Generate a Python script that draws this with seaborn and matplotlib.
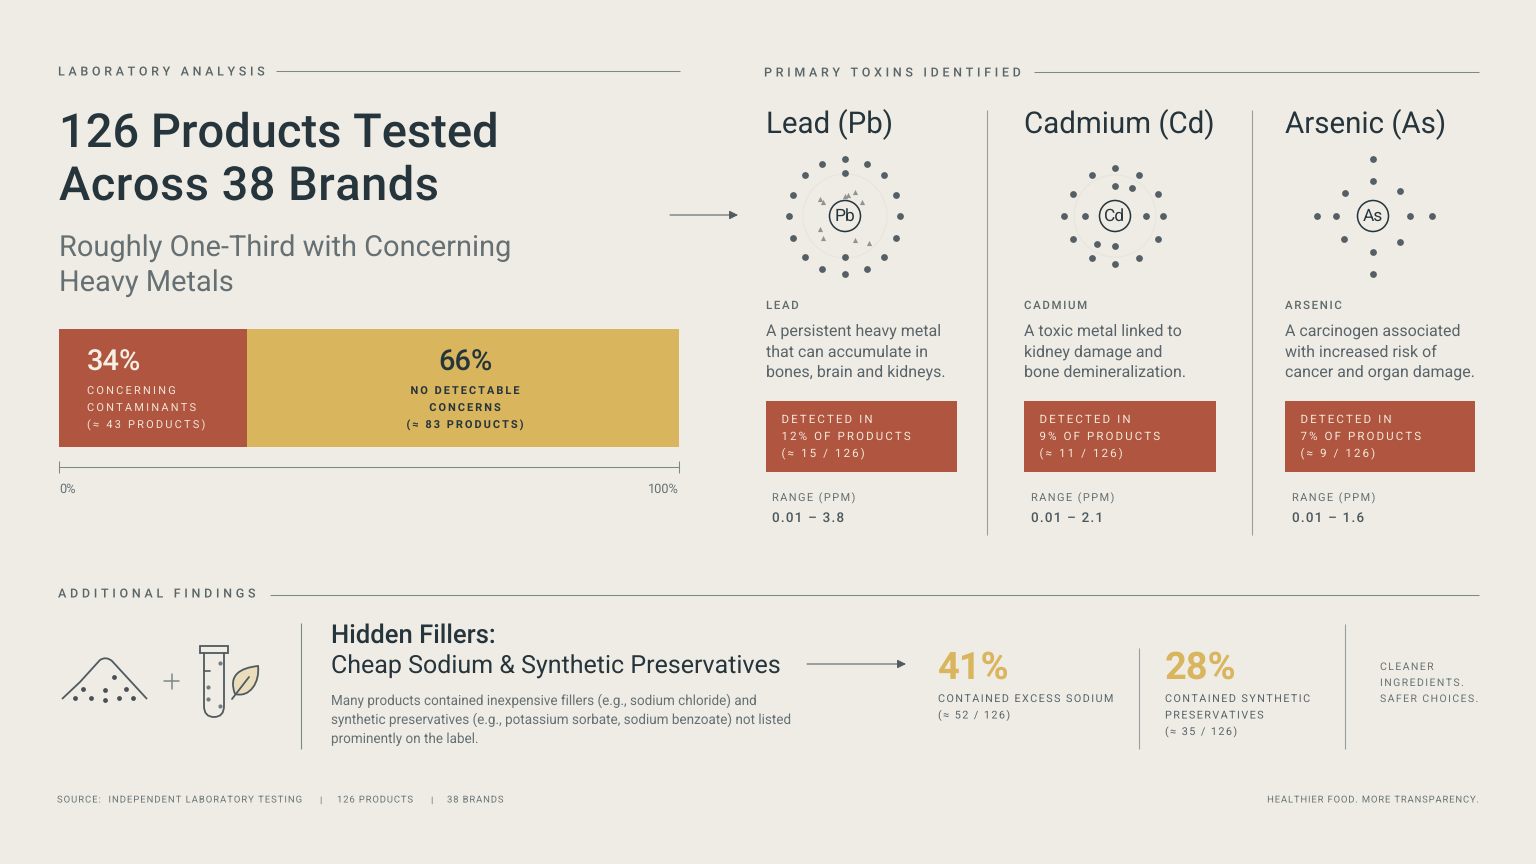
import numpy as np
import pandas as pd
import seaborn as sns
import matplotlib
matplotlib.use("Agg")
import matplotlib.pyplot as plt
from matplotlib.colors import to_rgb
from matplotlib.text import Text
from matplotlib.textpath import TextPath
from matplotlib.transforms import Affine2D
from matplotlib.path import Path
from matplotlib.patches import PathPatch, Circle, Rectangle

# ---------- data ----------
share_names = ["No detectable concerns", "Concerning contaminants"]
share_values = [66, 34]
# the reference draws the segments at these measured shares of the bar, not at the printed ones
share_drawn = [69.7, 30.3]
share_counts = [83, 43]
total_products = 126
total_brands = 38
toxin_names = ["Lead", "Cadmium", "Arsenic"]
toxin_symbols = ["Pb", "Cd", "As"]
toxin_pct = [12, 9, 7]
toxin_counts = [15, 11, 9]
toxin_ranges = ["0.01 – 3.8", "0.01 – 2.1", "0.01 – 1.6"]
toxin_desc = [
    ["A persistent heavy metal", "that can accumulate in", "bones, brain and kidneys."],
    ["A toxic metal linked to", "kidney damage and", "bone demineralization."],
    ["A carcinogen associated", "with increased risk of", "cancer and organ damage."],
]
filler_pct = [41, 28]
filler_counts = [52, 35]
filler_labels = [["CONTAINED EXCESS SODIUM"], ["CONTAINED SYNTHETIC", "PRESERVATIVES"]]

BG = "#EEECE5"; INK = "#26343C"; GREY = "#667073"; RULE = "#7F8887"
RED = "#B0553F"; GOLD = "#D9B55E"; DOT = "#555F66"

sns.set_theme(style="white")
plt.rcParams["font.family"] = ["Roboto", "DejaVu Sans"]
plt.rcParams["text.hinting"] = "no_hinting"


class Tracked(Text):
    """A single text whose letters are spaced apart by `tracking` pixels."""
    def __init__(self, *a, tracking=0, **k):
        super().__init__(*a, **k)
        self._tracking = tracking

    def _adv(self, renderer, s):
        fp = self.get_fontproperties()
        f = renderer.get_text_width_height_descent
        return f(s + "|", fp, False)[0] - f("|", fp, False)[0]

    def get_window_extent(self, renderer=None, dpi=None):
        bb = super().get_window_extent(renderer, dpi)
        extra = self._tracking * (len(self.get_text()) - 1)
        ha = self.get_ha()
        if ha == "left":
            bb.x1 += extra
        elif ha == "right":
            bb.x0 -= extra
        else:
            bb.x0 -= extra / 2
            bb.x1 += extra / 2
        return bb

    def draw(self, renderer):
        if not self._tracking:
            return super().draw(renderer)
        s = self.get_text()
        fp = self.get_fontproperties()
        x0, y0 = self.get_transform().transform(self.get_position())
        total = self._adv(renderer, s) + self._tracking * (len(s) - 1)
        ha = self.get_ha()
        start = x0 - (0 if ha == "left" else total if ha == "right" else total / 2)
        gc = renderer.new_gc()
        gc.set_linewidth(0)
        gc.set_snap(False)
        for i, c in enumerate(s):
            if not c.strip():
                continue
            px = start + self._adv(renderer, s[:i]) + self._tracking * i
            glyph = TextPath((0, 0), c, size=fp.get_size_in_points() * 100 / 72, prop=fp)
            renderer.draw_path(gc, glyph, Affine2D().translate(px, y0), to_rgb(self.get_color()))
        gc.restore()


fig = plt.figure(figsize=(15.36, 8.64), dpi=100, facecolor=BG)
ax = fig.add_axes([0, 0, 1, 1], facecolor="none")
ax.set_axis_off()
ax.set_zorder(2)
W, H = 1536, 864


def T(x, y, s, px, color=INK, weight="normal", track=0, ha="left"):
    """Text with its size in pixels and y at the baseline."""
    t = Tracked(x, y, s, tracking=track, fontsize=px * 0.72, color=color, fontweight=weight,
                ha=ha, va="baseline", transform=ax.transData)
    ax.add_artist(t)
    t.set_clip_on(False)
    t.set_zorder(6)
    return t


def hline(x0, x1, y, c=RULE, lw=0.75):
    ax.plot([x0, x1], [y, y], color=c, lw=lw, solid_capstyle="butt")


def vline(x, y0, y1, c="#9A9F9D", lw=0.8):
    ax.plot([x, x], [y0, y1], color=c, lw=lw, solid_capstyle="butt")


def arrow(x0, x1, y):
    ax.annotate("", xy=(x1, y), xytext=(x0, y),
                arrowprops=dict(arrowstyle="-|>,head_length=0.4,head_width=0.2", color="#4F5B60",
                                lw=0.75, shrinkA=0, shrinkB=0, mutation_scale=13))


# ---------- upper left ----------
T(58, 75.5, "LABORATORY ANALYSIS", 12.5, "#5A6568", "medium", 3.65)
hline(276, 680, 71)
T(59, 147, f"{total_products} Products Tested", 47, INK, "medium")
T(59, 200, f"Across {total_brands} Brands", 47, INK, "medium", 0.45)
T(59, 255.5, "Roughly One-Third with Concerning", 29, GREY, "normal")
T(59, 290.5, "Heavy Metals", 29, GREY, "normal")

# stacked bar: cumulative total first, the first segment over it
bar_ax = fig.add_axes([59 / W, 1 - 447 / H, 620 / W, 118 / H], facecolor="none")
bar_ax.set_zorder(1)
shares = pd.DataFrame({"group": ["all"] * 2, "name": share_names, "value": share_drawn})
sns.barplot(data=pd.DataFrame({"v": [sum(share_drawn)], "g": ["all"]}), x="v", y="g", orient="y",
            color=GOLD, saturation=1, width=1, linewidth=0, ax=bar_ax)
sns.barplot(data=shares[shares["name"] == share_names[1]], x="value", y="group", orient="y",
            color=RED, saturation=1, width=1, linewidth=0, ax=bar_ax)
bar_ax.set_xlim(0, 100)
bar_ax.set_ylim(0.5, -0.5)
bar_ax.set(xlabel="", ylabel="", yticks=[])
for side in ["top", "left", "right"]:
    bar_ax.spines[side].set_visible(False)
bar_ax.spines["bottom"].set_position(("outward", 14.4))
bar_ax.spines["bottom"].set_color(RULE)
bar_ax.spines["bottom"].set_linewidth(0.75)
bar_ax.set_xticks([0, 100], ["0%", "100%"])
bar_ax.tick_params(axis="x", direction="inout", bottom=True, length=8.6, width=0.75, color=RULE,
                   labelsize=9.2, labelcolor=GREY, pad=7)
bar_ax.get_xticklabels()[0].set_ha("left")
bar_ax.get_xticklabels()[1].set_ha("right")

T(87, 371, f"{share_values[1]}%", 29, "#F6EFE6", "medium")
for y, s in zip([394, 411, 428], ["CONCERNING", "CONTAMINANTS", f"(≈ {share_counts[1]} PRODUCTS)"]):
    T(87, y, s, 11, "#F0E4D8", "normal", 2.2)
T(465, 371, f"{share_values[0]}%", 29, INK, "medium", ha="center")
for y, s in zip([394, 411, 428], ["NO DETECTABLE", "CONCERNS", f"(≈ {share_counts[0]} PRODUCTS)"]):
    T(465, y, s, 11, INK, "bold", 2.0, ha="center")

# ---------- upper right ----------
T(764, 76.5, "PRIMARY TOXINS IDENTIFIED", 12.5, "#5A6568", "medium", 3.67)
hline(1034, 1479, 72)
arrow(670, 738, 215)
vline(987, 110, 535)
vline(1252, 110, 535)

col_x = [766, 1024, 1285]
col_w = [191, 192, 190]
range_x = [772, 1031, 1292]
centers = [(845, 216), (1115, 216), (1373, 216)]
atoms = [
    [(0, -57), (-23, -52), (22, -52), (0, -43), (-40, -41), (39, -41), (-52, -21), (51, -21),
     (-56, 0), (55, 0), (-52, 22), (51, 22), (-40, 41), (39, 41), (-23, 53), (22, 53), (0, 58), (0, 41)],
    [(0, -48), (-23, -41), (24, -41), (0, -30), (17, -28), (-42, -22), (43, -22), (-51, 0), (-30, 0),
     (31, 0), (48, 0), (-42, 23), (43, 23), (-18, 28), (0, 30), (-23, 42), (24, 42), (0, 48)],
    [(0, -57), (0, -35), (-28, -23), (27, -25), (-56, 0), (-37, 0), (37, 0), (59, 0), (-29, 23),
     (27, 26), (0, 36), (0, 58)],
]
for i, name in enumerate(toxin_names):
    x = col_x[i]
    T(x, 132, f"{name} ({toxin_symbols[i]})", 29.5, INK, "normal")
    cx, cy = centers[i]
    pts = pd.DataFrame(atoms[i], columns=["dx", "dy"])
    sns.scatterplot(x=pts["dx"] + cx, y=pts["dy"] + cy, s=24, color=DOT, linewidth=0, legend=False, ax=ax)
    ax.add_patch(Circle((cx, cy), 15.5, fc=BG, ec=INK, lw=1.1, zorder=4))
    ax.text(cx, cy + 0.5, toxin_symbols[i], fontsize=12.5, color=INK, ha="center", va="center", zorder=5)
    T(x, 309, name.upper(), 11.5, "#5F6A6C", "medium", 1.6)
    for y, s in zip([336, 356.5, 377], toxin_desc[i]):
        T(x, y, s, 16, "#59646A")
    ax.add_patch(Rectangle((x, 400.5), col_w[i], 71, fc=RED, ec="none", zorder=2))
    lines = ["DETECTED IN", f"{toxin_pct[i]}% OF PRODUCTS", f"(≈ {toxin_counts[i]} / {total_products})"]
    for y, s in zip([423, 440, 457], lines):
        T(x + 15.5, y, s, 11.5, "#F3E8DC", "normal", 2.1)
    T(range_x[i], 501, "RANGE (PPM)", 11, GREY, "normal", 1.4)
    T(range_x[i], 522, toxin_ranges[i], 13.5, "#4C585D", "medium", 1.2)

# Pb speckles and faint rings
sx = [820, 823, 848, 855, 862, 820, 823, 855, 869, 845]
sy = [199, 202, 195, 192, 202, 229, 238, 240, 243, 196]
sns.scatterplot(x=sx, y=sy, s=14, color="#8F9391", marker="^", linewidth=0, legend=False, ax=ax)
ax.add_patch(Circle((845, 216), 42, fc="none", ec="#E7E5DE", lw=0.8, zorder=0.5))
ax.add_patch(Circle((1115, 216), 41, fc="none", ec="#E7E5DE", lw=0.8, zorder=0.5))

# ---------- additional findings ----------
T(58, 597.5, "ADDITIONAL FINDINGS", 12.5, "#5A6568", "medium", 3.7)
hline(270, 1479, 595)
vline(301, 623, 749, "#7F8887")

# pile icon
ICON = "#4F5A60"
ax.add_patch(PathPatch(Path([(62, 699), (80, 682), (100, 660), (106, 656), (112, 661), (147, 699)],
                            [1, 2, 2, 3, 3, 2]), fc="none", ec=ICON, lw=1.3))
ddx = [75, 91, 105, 119, 133, 83, 105, 126, 114]
ddy = [698, 698, 700, 698, 698, 689, 690, 689, 677]
sns.scatterplot(x=ddx, y=ddy, s=12, color="#4A4F55", linewidth=0, legend=False, ax=ax)
ax.plot([164, 179], [681, 681], color=RULE, lw=1.1)
ax.plot([171.5, 171.5], [673.5, 688.5], color=RULE, lw=1.1)
# tube icon
ax.add_patch(Rectangle((200, 646), 28, 6.5, fc="none", ec=ICON, lw=1.3))
ax.add_patch(PathPatch(Path([(204, 652.5), (204, 706), (204, 717), (214, 717), (224, 717), (224, 706), (224, 652.5)],
                            [1, 2, 3, 3, 3, 3, 2]), fc="none", ec=ICON, lw=1.3))
ax.plot([204, 210], [671, 671], color=ICON, lw=1.2)
sns.scatterplot(x=[208, 208, 220, 220], y=[687, 699, 663, 706], s=9, color="#777C7E", linewidth=0, legend=False, ax=ax)
# leaf icon
ax.add_patch(PathPatch(Path([(235, 694), (228, 675), (240, 668), (258, 666), (260, 682), (250, 698), (235, 694)],
                            [1, 4, 4, 4, 4, 4, 4]), fc="#EADDBB", ec=ICON, lw=1.3))
ax.plot([232, 249], [699, 677], color=ICON, lw=1.3)

T(331, 643, "Hidden Fillers:", 25.6, INK, "medium")
T(331, 673.5, "Cheap Sodium & Synthetic Preservatives", 25, INK, "normal")
para = ["Many products contained inexpensive fillers (e.g., sodium chloride) and",
        "synthetic preservatives (e.g., potassium sorbate, sodium benzoate) not listed",
        "prominently on the label."]
for y, s in zip([704.5, 724, 743.5], para):
    T(331, y, s, 13.55, GREY, "normal")
arrow(807, 906, 664)

for i, x in enumerate([938, 1165]):
    T(x, 678.5, f"{filler_pct[i]}%", 38, GOLD, "bold")
    lines = filler_labels[i] + [f"(≈ {filler_counts[i]} / {total_products})"]
    for y, s in zip([702, 718.5, 735], lines):
        T(x, y, s, 10.8, "#59646A", "normal", 1.45)
vline(1139, 648, 749)
vline(1345, 624, 749)
for y, s in zip([670, 686, 702], ["CLEANER", "INGREDIENTS.", "SAFER CHOICES."]):
    T(1380, y, s, 10.5, "#6A7476", "normal", 1.4)

# footer
T(57, 802.5, "SOURCE:  INDEPENDENT LABORATORY TESTING", 9.5, "#6A7476", "normal", 0.96)
T(319, 802.5, "|", 9.5, "#6A7476")
T(337, 802.5, f"{total_products} PRODUCTS", 9.5, "#6A7476", "normal", 0.85)
T(430, 802.5, "|", 9.5, "#6A7476")
T(447, 802.5, f"{total_brands} BRANDS", 9.5, "#6A7476", "normal", 0.85)
T(1479, 802.5, "HEALTHIER FOOD. MORE TRANSPARENCY.", 9.5, "#6A7476", "normal", 0.82, ha="right")

ax.set_xlim(0, W)
ax.set_ylim(H, 0)
ax.set_axis_off()
fig.savefig("out.png", dpi=100, facecolor=BG)
